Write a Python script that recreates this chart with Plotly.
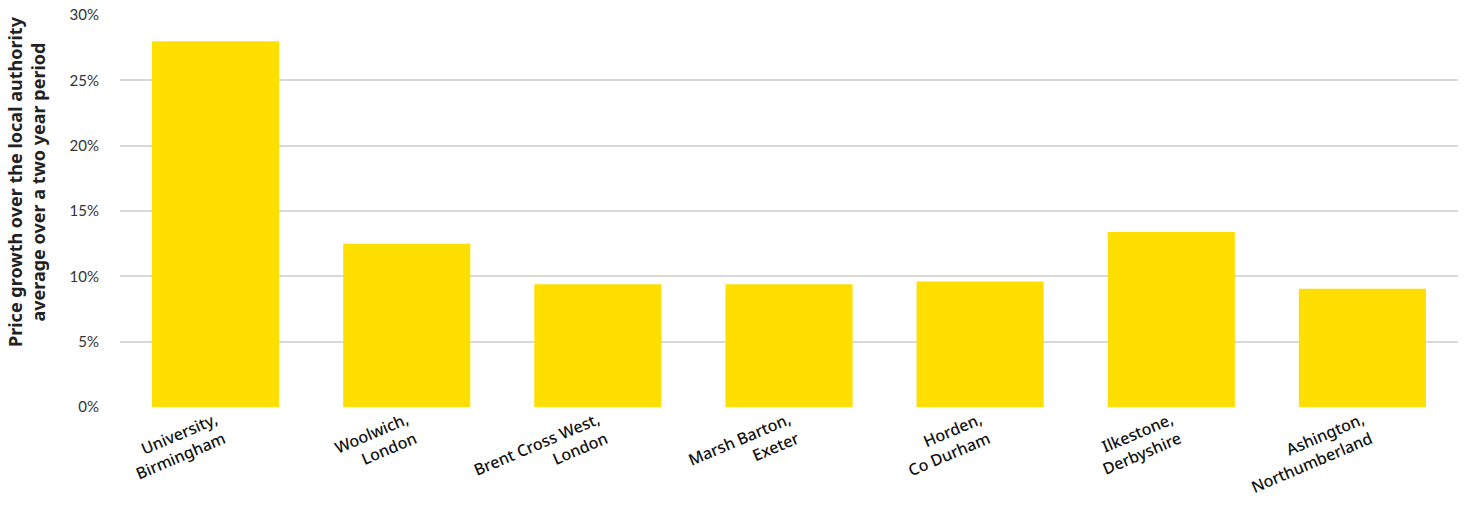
import plotly.graph_objects as go

categories = ["University,<br>Birmingham", "Woolwich,<br>London", "Brent Cross West,<br>London",
              "Marsh Barton,<br>Exeter", "Horden,<br>Co Durham", "Ilkestone,<br>Derbyshire",
              "Ashington,<br>Northumberland"]
values = [28.0, 12.5, 9.4, 9.4, 9.6, 13.4, 9.05]
y_ticks = [0, 5, 10, 15, 20, 25, 30]
y_ticklabels = ["0%", "5%", "10%", "15%", "20%", "25%", "30%"]
y_title = "Price growth over the local authority<br>average over a two year period"

fig = go.Figure(go.Bar(x=list(range(len(categories))), y=values, marker_color="#FFDF00",
                       marker_line_width=0, width=0.665))

fig.update_layout(
    width=1466, height=510,
    margin=dict(l=120, r=8, t=15, b=103),
    plot_bgcolor="white", paper_bgcolor="white",
    showlegend=False,
    font=dict(family="Noto Sans, sans-serif", color="#222"),
)
fig.update_xaxes(
    range=[-0.5, 6.5], automargin=False,
    tickmode="array", tickvals=list(range(len(categories))), ticktext=categories,
    tickangle=-23, tickfont=dict(size=16, color="#111", family="Noto Sans", weight=500),
    showgrid=False, showline=False, ticks="",
)
fig.update_yaxes(
    range=[0, 30], automargin=False, tickmode="array", tickvals=y_ticks, ticktext=y_ticklabels,
    gridcolor="#d9d9d9", gridwidth=2, zeroline=False,
    tickfont=dict(size=15, color="#333", family="Lato"),
    ticks="", ticklabelstandoff=20,
)
fig.add_annotation(
    text="<b>" + y_title + "</b>", textangle=-90, showarrow=False,
    xref="paper", yref="paper", x=(27 - 120) / 1338, y=(407 - 182) / 392,
    xanchor="center", yanchor="middle",
    font=dict(size=18, color="#222", family="Noto Sans"),
)
fig.write_html("out.html")
